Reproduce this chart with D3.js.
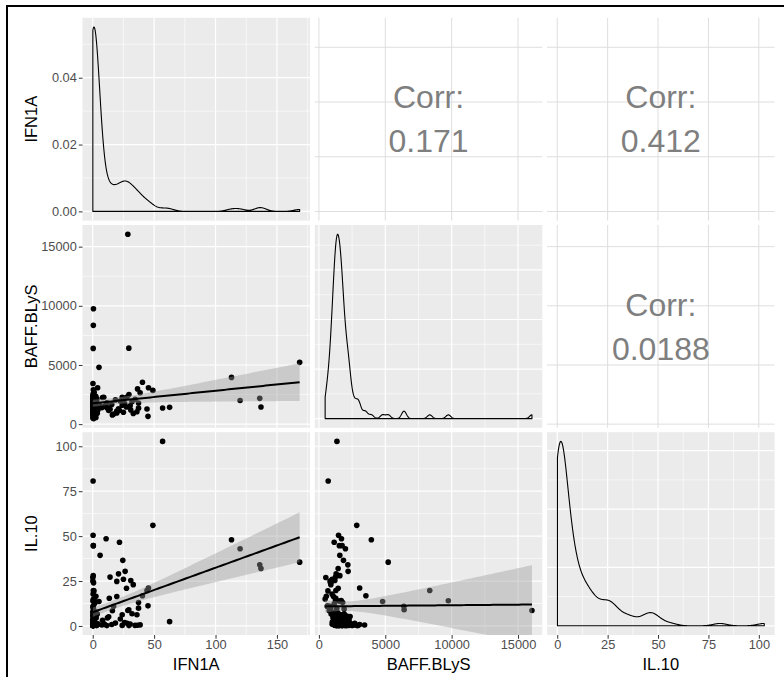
<!DOCTYPE html>
<html lang="en">
<head>
<meta charset="utf-8">
<title>ggpairs</title>
<script src="https://cdn.jsdelivr.net/npm/d3@7"></script>
<style>
  body { margin: 0; background: #fff; }
  text { font-family: "Liberation Sans", Arial, sans-serif; }
</style>
</head>
<body>
<script>

var varNames = ["IFN1A", "BAFF.BLyS", "IL.10"];

var ifn1a = [113, 120, 136, 137, 168.5,
  28.6, 0.6, 0.5, 0.4, 29.4, 5.1, 56.9, 0.3, 49,
  0.2, 4.0, 0.5, 1.2, 0.3, 2.5, 0.8, 0.1, 3.2, 0.6,
  0.4, 1.5, 0.2, 0.9, 0.3, 2.1, 0.7, 0.1, 1.8, 0.5,
  3.4, 0.4, 0.2, 1.1, 0.6, 0.3, 2.8, 0.1, 0.9, 0.4,
  1.4, 0.2, 0.7, 0.3, 4.3, 0.5, 0.1, 1.6, 0.8, 0.2,
  2.2, 0.4, 0.6, 0.3, 1.3, 0.1, 0.9, 0.5, 0.2, 3.7,
  0.4, 0.7, 0.1, 1.9, 0.3, 0.6, 0.2, 1.0, 0.5, 0.3,
  2.6, 0.1, 0.8, 0.4, 0.2, 1.7, 0.6, 0.3, 0.1,
  6.0, 10.9, 21.8, 14.1, 19.6, 26.4, 31.0, 24.5, 19.6, 45.4,
  44.2, 36.5, 37.3, 45.0, 37.3, 36.0, 32.0, 24.0, 24.0, 62.6,
  38.6, 7.5, 9.0, 11.5, 13.0, 15.5, 17.0, 18.5, 21.0, 22.5,
  25.0, 26.0, 27.5, 28.0, 29.5, 30.5, 33.0, 34.5, 12.0, 8.0,
  16.0, 0.4,
  0.2, 0.5, 0.1, 1.0, 0.3, 2.3, 0.7, 0.4, 0.2, 1.4,
  0.6, 0.1, 3.0, 0.3, 0.8, 0.2, 9.8, 0.5, 1.2, 0.4,
  13.5, 0.1, 0.9, 40.5, 0.3];

var baffBlys = [3950, 2000, 2180, 1450, 5220,
  16050, 9750, 8350, 6400, 6420, 4800, 1360, 700, 2850,
  3440, 3070, 2900, 2700, 2550, 2350, 2200, 2100, 1980, 1900,
  1850, 1800, 1760, 1720, 1680, 1650, 1620, 1590, 1560, 1540,
  2150, 1510, 1480, 1460, 1430, 1400, 1380, 1360, 1340, 1320,
  1300, 1280, 1260, 1240, 1220, 1200, 1180, 1160, 1140, 1940,
  1100, 1520, 1060, 1690, 1020, 1000, 1880, 1780, 940, 920,
  900, 870, 840, 1610, 1530, 1470, 1660, 680, 1750, 1820,
  560, 520, 470, 1580, 1410, 1290, 1150, 1010, 1700,
  1575, 1700, 1150, 1250, 950, 2200, 1200, 1850, 1100, 3070,
  1280, 2980, 1790, 660, 1350, 1050, 1900, 1600, 2270, 1420,
  2650, 1400, 2270, 1800, 1150, 1650, 850, 2050, 1300, 1950,
  1000, 1750, 1450, 2300, 2500, 1550, 900, 2100, 1350, 2250,
  780, 1250,
  1230, 1330, 1470, 1060, 1560, 1740, 2020, 1120, 1390, 1600,
  1890, 2260, 1310, 990, 1640, 2110, 1500, 1190, 1680, 630,
  1270, 2390, 1950, 3540, 1480];

var il10 = [48, 43, 34, 32, 35.5,
  8.6, 14, 19.7, 11, 9, 13.6, 102.7, 80.7, 56,
  0.5, 0.8, 0.1, 1.5, 0.4, 5.2, 0.9, 5.5, 0.2, 9.5,
  0.6, 3.8, 0.2, 1.9, 0.3, 1.6, 0.7, 0.9, 6.5, 44.7,
  0.5, 1.4, 0.1, 0.5, 3.7, 0.5, 4.4, 0.1, 1.7, 0.2,
  8.2, 6.0, 0.8, 0.4, 1.2, 3.3, 0.4, 12.5, 1.8, 0.6,
  5.8, 0.6, 7.1, 0.3, 7.4, 1.0, 0.9, 0.7, 7.9, 6.6,
  10.2, 24, 25, 4.3, 13.8, 4.8, 1.3, 19.5, 44.7, 2.8,
  16.5, 27, 15, 28, 3.1, 0.4, 0.9, 2.2, 1.2,
  39.3, 48.5, 46.6, 27.2, 24.8, 30.4, 25.3, 36.5, 16.4, 21.1,
  19.7, 0.4, 13, 11.2, 9.9, 6.2, 6.8, 6.2, 0.3, 2.4,
  0.6, 0.5, 1.2, 0.2, 5.1, 0.8, 11, 1.6, 29, 3.9,
  26, 1.9, 21, 1.5, 0.2, 1.1, 23, 0.3, 4.5, 3.2,
  8.5, 14.5,
  0.3, 1.1, 0.6, 4.6, 0.2, 5.3, 3.9, 0.9, 7.6, 1.4,
  5.9, 3.6, 7.2, 17.8, 1.0, 0.2, 0.8, 0.6, 14.2, 10.9,
  15.4, 1.3, 0.3, 16.8, 50.5];

var corrLabels = ["0.171", "0.412", "0.0188"];
var corrCells = [[0, 1], [0, 2], [1, 2]];   // [row, col] of the upper panels

var ifnTicks = [0, 50, 100, 150];
var baffTicks = [0, 5000, 10000, 15000];
var il10Ticks = [0, 25, 50, 75, 100];
var densityTicks = [0, 0.02, 0.04];

// ---------------------------------------------------------------

var w = 784, h = 677;
var colLeft = [82.5, 314.8, 547.1], rowTop = [17.8, 225, 432.2];
var pw = 227.5, ph = 202.8;

var cols = [ifn1a, baffBlys, il10];
var ticks = [ifnTicks, baffTicks, il10Ticks];

function padded(ext) {
  var r = ext[1] - ext[0];
  return [ext[0] - 0.05 * r, ext[1] + 0.05 * r];
}

// R's bw.nrd0
function bwNrd0(v) {
  var s = d3.deviation(v);
  var sorted = v.slice().sort(d3.ascending);
  var iqr = d3.quantileSorted(sorted, 0.75) - d3.quantileSorted(sorted, 0.25);
  var lo = Math.min(s, iqr / 1.34);
  return 0.9 * lo * Math.pow(v.length, -0.2);
}

function kde(v) {
  var bw = bwNrd0(v), ext = d3.extent(v), n = v.length;
  return d3.range(512).map(function(k) {
    var x = ext[0] + (ext[1] - ext[0]) * k / 511;
    var s = d3.sum(v, function(d) { var u = (x - d) / bw; return Math.exp(-0.5 * u * u); });
    return [x, s / (n * bw * Math.sqrt(2 * Math.PI))];
  });
}

// lm fit with a 95% confidence band, as geom_smooth(method = "lm")
function linfit(xv, yv) {
  var n = xv.length, mx = d3.mean(xv), my = d3.mean(yv);
  var sxx = d3.sum(xv, function(d) { return (d - mx) * (d - mx); });
  var sxy = d3.sum(xv, function(d, i) { return (d - mx) * (yv[i] - my); });
  var b = sxy / sxx, a = my - b * mx;
  var rss = d3.sum(xv, function(d, i) { var e = yv[i] - a - b * d; return e * e; });
  var s2 = rss / (n - 2);
  var df = n - 2, z = 1.959964;
  var t = z + (z * z * z + z) / (4 * df) + (5 * Math.pow(z, 5) + 16 * z * z * z + 3 * z) / (96 * df * df);
  var ext = d3.extent(xv);
  return d3.range(80).map(function(k) {
    var x = ext[0] + (ext[1] - ext[0]) * k / 79;
    var se = Math.sqrt(s2 * (1 / n + (x - mx) * (x - mx) / sxx));
    var yh = a + b * x;
    return { x: x, y: yh, lo: yh - t * se, hi: yh + t * se };
  });
}

var xs = cols.map(function(v, j) {
  return d3.scaleLinear().domain(padded(d3.extent(v))).range([colLeft[j], colLeft[j] + pw]);
});
var ys = cols.map(function(v, i) {
  return d3.scaleLinear().domain(padded(d3.extent(v))).range([rowTop[i] + ph, rowTop[i]]);
});

var dens = cols.map(kde);
var dys = dens.map(function(dd, i) {
  return d3.scaleLinear().domain(padded([0, d3.max(dd, function(d) { return d[1]; })]))
    .range([rowTop[i] + ph, rowTop[i]]);
});

function minorsOf(tv, domain) {
  var step = tv[1] - tv[0], out = [];
  for (var t = tv[0] - step / 2; t <= tv[tv.length - 1] + step; t += step) {
    if (t >= domain[0] && t <= domain[1]) out.push(t);
  }
  return out;
}

var svg = d3.select("body").append("svg")
  .attr("width", w)
  .attr("height", h);

var defs = svg.append("defs");

function drawGrid(g, i, j, xsc, ysc, ytv, upper) {
  var x0 = colLeft[j], x1 = colLeft[j] + pw, y0 = rowTop[i], y1 = rowTop[i] + ph;
  g.append("rect").attr("x", x0).attr("y", y0).attr("width", pw).attr("height", ph)
    .attr("fill", upper ? "#ffffff" : "#ebebeb");
  if (!upper) {
    minorsOf(ticks[j], xsc.domain()).forEach(function(t) {
      g.append("line").attr("x1", xsc(t)).attr("x2", xsc(t)).attr("y1", y0).attr("y2", y1)
        .attr("stroke", "#fff").attr("stroke-width", 0.6);
    });
    minorsOf(ytv, ysc.domain()).forEach(function(t) {
      g.append("line").attr("y1", ysc(t)).attr("y2", ysc(t)).attr("x1", x0).attr("x2", x1)
        .attr("stroke", "#fff").attr("stroke-width", 0.6);
    });
  }
  var col = upper ? "#dedede" : "#fff", sw = upper ? 1 : 1.2;
  ticks[j].forEach(function(t) {
    g.append("line").attr("x1", xsc(t)).attr("x2", xsc(t)).attr("y1", y0).attr("y2", y1)
      .attr("stroke", col).attr("stroke-width", sw);
  });
  ytv.forEach(function(t) {
    g.append("line").attr("y1", ysc(t)).attr("y2", ysc(t)).attr("x1", x0).attr("x2", x1)
      .attr("stroke", col).attr("stroke-width", sw);
  });
}

for (var i = 0; i < 3; i++) {
  for (var j = 0; j < 3; j++) {
    var g = svg.append("g");
    var cid = "clip" + i + j;
    defs.append("clipPath").attr("id", cid).append("rect")
      .attr("x", colLeft[j]).attr("y", rowTop[i]).attr("width", pw).attr("height", ph);

    if (i === j) {
      drawGrid(g, i, j, xs[j], dys[i], i === 0 ? densityTicks : dys[i].ticks(3), false);
      var ext = d3.extent(cols[i]);
      var poly = [[ext[0], 0]].concat(dens[i]).concat([[ext[1], 0]]);
      g.append("path")
        .attr("clip-path", "url(#" + cid + ")")
        .attr("d", d3.line().x(function(d) { return xs[j](d[0]); }).y(function(d) { return dys[i](d[1]); })(poly) + "Z")
        .attr("fill", "none")
        .attr("stroke", "#000")
        .attr("stroke-width", 1.1)
        .attr("stroke-linejoin", "round");
    } else if (i > j) {
      drawGrid(g, i, j, xs[j], ys[i], ticks[i], false);
      var xv = cols[j], yv = cols[i];
      var xsc = xs[j], ysc = ys[i];
      var pg = g.append("g").attr("clip-path", "url(#" + cid + ")");
      pg.selectAll("circle").data(d3.range(xv.length)).enter().append("circle")
        .attr("cx", function(k) { return xsc(xv[k]); })
        .attr("cy", function(k) { return ysc(yv[k]); })
        .attr("r", 2.8)
        .attr("fill", "#000");
      var fit = linfit(xv, yv);
      pg.append("path")
        .attr("d", d3.area().x(function(d) { return xsc(d.x); })
          .y0(function(d) { return ysc(d.lo); }).y1(function(d) { return ysc(d.hi); })(fit))
        .attr("fill", "#999999")
        .attr("fill-opacity", 0.4);
      pg.append("path")
        .attr("d", d3.line().x(function(d) { return xsc(d.x); }).y(function(d) { return ysc(d.y); })(fit))
        .attr("fill", "none")
        .attr("stroke", "#000")
        .attr("stroke-width", 2);
    } else {
      drawGrid(g, i, j, xs[j], ys[i], ticks[i], true);
    }
  }
}

// correlation text in the upper panels
corrCells.forEach(function(c, k) {
  var cx = colLeft[c[1]] + pw / 2, cy = rowTop[c[0]] + ph / 2;
  var t = svg.append("g").attr("fill", "#7f7f7f").attr("font-size", "32px").attr("text-anchor", "middle");
  t.append("text").attr("x", cx).attr("y", cy - 22).attr("dy", "0.35em").text("Corr:");
  t.append("text").attr("x", cx).attr("y", cy + 22).attr("dy", "0.35em").text(corrLabels[k]);
});

// axes
function styleAxis(sel) {
  sel.select(".domain").remove();
  sel.selectAll(".tick line").attr("stroke", "#333333").attr("stroke-width", 1);
  sel.selectAll(".tick text").attr("fill", "#4d4d4d").attr("font-size", "12.8px")
    .attr("font-family", "'Liberation Sans', Arial, sans-serif");
}

[dys[0], ys[1], ys[2]].forEach(function(sc, i) {
  var tv = i === 0 ? densityTicks : ticks[i];
  var fmt = i === 0 ? d3.format(".2f") : d3.format("d");
  svg.append("g")
    .attr("transform", "translate(" + colLeft[0] + ",0)")
    .call(d3.axisLeft(sc).tickValues(tv).tickFormat(fmt).tickSize(3.7).tickPadding(2))
    .call(styleAxis);
  svg.append("text")
    .attr("transform", "translate(31," + (rowTop[i] + ph / 2) + ") rotate(-90)")
    .attr("text-anchor", "middle")
    .attr("dy", "0.35em")
    .attr("font-size", "16.5px")
    .attr("fill", "#000")
    .text(varNames[i]);
});

xs.forEach(function(sc, j) {
  svg.append("g")
    .attr("transform", "translate(0," + (rowTop[2] + ph) + ")")
    .call(d3.axisBottom(sc).tickValues(ticks[j]).tickFormat(d3.format("d")).tickSize(3.7).tickPadding(1.5))
    .call(styleAxis);
  svg.append("text")
    .attr("x", colLeft[j] + pw / 2)
    .attr("y", 670)
    .attr("text-anchor", "middle")
    .attr("font-size", "16.5px")
    .attr("fill", "#000")
    .text(varNames[j]);
});

// frame
svg.append("path")
  .attr("d", "M7," + h + "V6H" + w)
  .attr("fill", "none")
  .attr("stroke", "#000")
  .attr("stroke-width", 2);

</script>
</body>
</html>
